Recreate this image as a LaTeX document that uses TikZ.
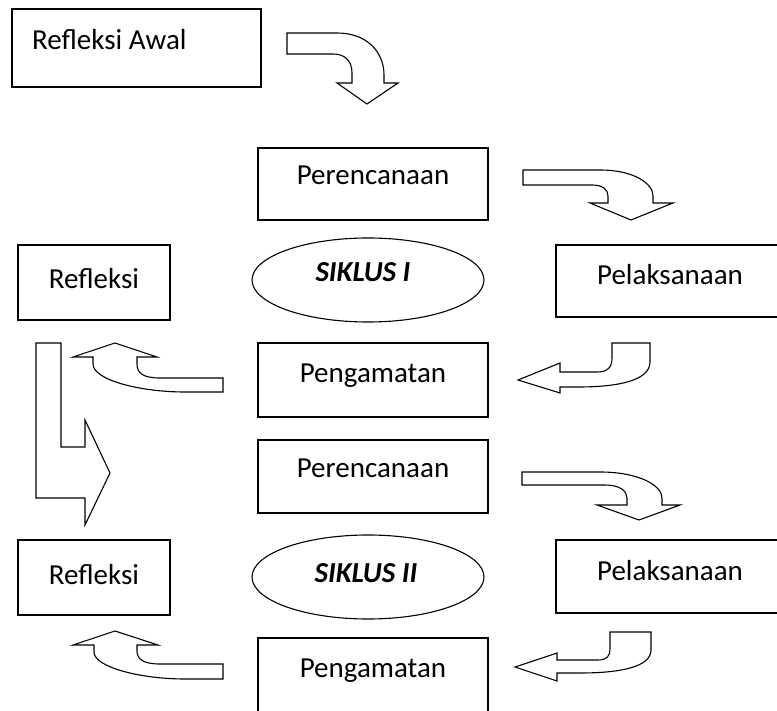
\documentclass[tikz,border=0pt]{standalone}
\usepackage{fontspec}
\setmainfont{Carlito}
\usetikzlibrary{shapes.geometric}
\begin{document}
\begin{tikzpicture}[x=1pt,y=-1pt,
  box/.style={draw, line width=1.3pt, inner sep=0pt, outer sep=0pt},
  oval/.style={draw, ellipse, line width=1.1pt, inner sep=0pt},
  txt/.style={font=\fontsize{29}{34}\selectfont, inner sep=0pt, anchor=base},
  btxt/.style={font=\fontsize{29}{34}\selectfont\bfseries\itshape, inner sep=0pt, anchor=base},
  blk/.style={draw, line width=1.1pt, line join=miter, fill=white}]
\useasboundingbox (0,0) rectangle (777,711);
\clip (0,0) rectangle (777,711);
% boxes
\node[box, minimum width=249pt, minimum height=78pt] (ra) at (136.5,48) {};
\node[txt, anchor=base west] (tra) at (32,50) {Refleksi Awal};
\node[box, minimum width=230pt, minimum height=72pt] (per1) at (373,184) {};
\node[txt] (tper1) at (373,185) {Perencanaan};
\node[box, minimum width=234pt, minimum height=72pt] (pel1) at (673,281) {};
\node[txt] (tpel1) at (670,285) {Pelaksanaan};
\node[box, minimum width=152pt, minimum height=75pt] (ref1) at (94,282.5) {};
\node[txt] (tref1) at (94,289) {Refleksi};
\node[oval, minimum width=232pt, minimum height=84pt] (ell1) at (368,280) {};
\node[btxt] (tell1) at (363,282) {SIKLUS I};
\node[box, minimum width=230pt, minimum height=74pt] (pen1) at (373,380) {};
\node[txt] (tpen1) at (373,383) {Pengamatan};
\node[box, minimum width=230pt, minimum height=73pt] (per2) at (373,476.5) {};
\node[txt] (tper2) at (373,477) {Perencanaan};
\node[box, minimum width=234pt, minimum height=73pt] (pel2) at (673,576.5) {};
\node[txt] (tpel2) at (670,580) {Pelaksanaan};
\node[box, minimum width=152pt, minimum height=75pt] (ref2) at (94,577.5) {};
\node[txt] (tref2) at (94,584) {Refleksi};
\node[oval, minimum width=232pt, minimum height=84pt] (ell2) at (368,577) {};
\node[btxt] (tell2) at (366,582) {SIKLUS II};
\node[box, minimum width=230pt, minimum height=82pt] (pen2) at (373,679) {};
\node[txt] (tpen2) at (373,677) {Pengamatan};
% block arrows
% A: Refleksi Awal -> Perencanaan
\draw[blk] (287,33) -- (337,33) .. controls (367,33) and (384,52) .. (384,75) -- (384,83)
  -- (398,83) -- (367,104) -- (337,83) -- (352,83) -- (352,73)
  .. controls (352,61) and (345,54) .. (333,54) -- (287,54) -- cycle;
% B: Perencanaan 1 -> Pelaksanaan 1
\draw[blk] (523,170) -- (600,170) .. controls (633,170) and (653,183) .. (653,196) -- (653,203)
  -- (673,203) -- (631,220) -- (590,203) -- (608,203) -- (608,196)
  .. controls (608,189) and (602,185) .. (592,185) -- (523,185) -- cycle;
% C: Pelaksanaan 1 -> Pengamatan 1
\draw[blk] (518,380) -- (560,363) -- (560,372) -- (597,372)
  .. controls (608,372) and (612,367) .. (612,358) -- (612,343) -- (650,343) -- (650,362)
  .. controls (650,380) and (620,387) .. (578,387) -- (560,387) -- (560,393) -- cycle;
% D: Pengamatan 1 -> Refleksi 1
\draw[blk] (223,378) -- (223,392) -- (185,392)
  .. controls (140,392) and (93,380) .. (93,364) -- (93,357) -- (73,357) -- (115,343)
  -- (157,357) -- (137,357) -- (137,364)
  .. controls (137,373) and (143,378) .. (160,378) -- cycle;
% E: L arrow Refleksi 1 -> siklus II
\draw[blk] (36,343) -- (61,343) -- (61,447) -- (85,447) -- (85,420) -- (110,473)
  -- (85,525) -- (85,498) -- (36,498) -- cycle;
% F: Perencanaan 2 -> Pelaksanaan 2
\draw[blk] (522,472) -- (600,472) .. controls (638,472) and (662,485) .. (662,498) -- (662,505)
  -- (680,505) -- (639,520) -- (597,505) -- (627,505) -- (627,498)
  .. controls (627,491) and (620,485) .. (605,485) -- (522,485) -- cycle;
% G: Pelaksanaan 2 -> Pengamatan 2
\draw[blk] (515,667) -- (557,653) -- (557,660) -- (598,660)
  .. controls (607,660) and (610,656) .. (610,649) -- (610,632) -- (651,632) -- (651,650)
  .. controls (651,667) and (620,673) .. (580,673) -- (557,673) -- (557,681) -- cycle;
% H: Pengamatan 2 -> Refleksi 2
\draw[blk] (223,664) -- (223,679) -- (185,679)
  .. controls (140,679) and (94,667) .. (94,652) -- (94,645) -- (73,645) -- (115,631)
  -- (158,645) -- (137,645) -- (137,651)
  .. controls (137,659) and (143,664) .. (160,664) -- cycle;
\end{tikzpicture}
\end{document}
